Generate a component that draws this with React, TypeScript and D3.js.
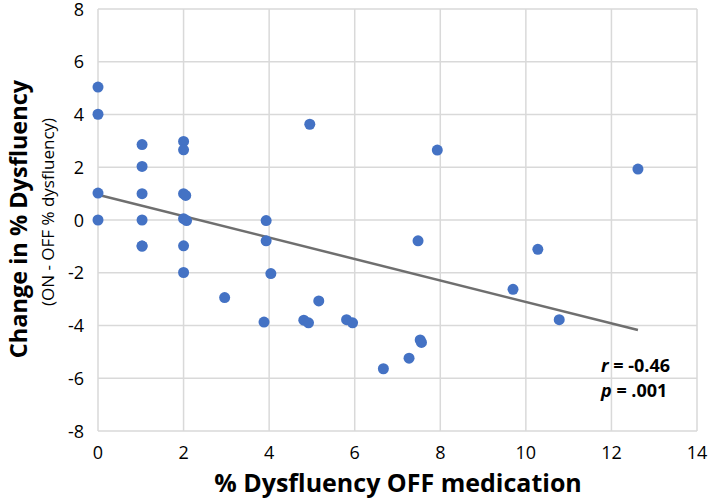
import * as d3 from "d3";

// % dysfluency OFF medication (x) and change ON - OFF (y)
const offDysfluency = [
  0, 0, 0, 0,
  1.03, 1.03, 1.03, 1.03, 1.03, 1.03,
  2.0, 2.0, 2.0, 2.05, 2.0, 2.07, 2.0, 2.0,
  2.96,
  3.93, 3.93, 4.04, 3.88,
  4.95, 4.81, 4.92, 5.16, 5.81, 5.95,
  6.67, 7.27, 7.53, 7.56,
  7.48, 7.93,
  10.28, 9.7, 10.78, 12.62,
];
const changeDysfluency = [
  5.04, 4.01, 1.02, 0,
  2.86, 2.03, 1.0, 0, -0.99, -0.99,
  2.98, 2.66, 1.0, 0.93, 0.05, -0.02, -0.98, -1.99,
  -2.94,
  -0.02, -0.79, -2.03, -3.87,
  3.63, -3.8, -3.9, -3.07, -3.78, -3.9,
  -5.64, -5.24, -4.55, -4.64,
  -0.79, 2.65,
  -1.11, -2.63, -3.78, 1.93,
];

const xTicks = [0, 2, 4, 6, 8, 10, 12, 14];
const yTicks = [-8, -6, -4, -2, 0, 2, 4, 6, 8];

// linear trendline
const trendX = [0, 12.62];
const trendY = [0.96, -4.17];

const width = 709;
const height = 501;
const left = 98;
const right = 697;
const top = 9;
const bottom = 431;
const font = "'Open Sans', 'DejaVu Sans', sans-serif";

export default function App() {
  const x = d3.scaleLinear().domain([0, 14]).range([left, right]);
  const y = d3.scaleLinear().domain([-8, 8]).range([bottom, top]);

  const points = offDysfluency.map((v, i) => [v, changeDysfluency[i]]);
  const trend = d3
    .line<number>()
    .x((d) => x(d))
    .y((d, i) => y(trendY[i]));

  return (
    <svg
      width={width}
      height={height}
      style={{ position: "fixed", left: 0, top: 0, background: "white", fontFamily: font }}
    >
      <g className="grid">
        {yTicks.map((t) => (
          <line key={"h" + t} x1={left} x2={right} y1={y(t)} y2={y(t)} stroke="#d9d9d9" strokeWidth={1.5} />
        ))}
        {xTicks.map((t) => (
          <line key={"v" + t} x1={x(t)} x2={x(t)} y1={top} y2={bottom} stroke="#d9d9d9" strokeWidth={1.5} />
        ))}
      </g>
      <g className="y-ticks" fontSize={18} fill="#000" textAnchor="end">
        {yTicks.map((t) => (
          <text key={t} x={left - 14} y={y(t) + 6.5}>
            {t}
          </text>
        ))}
      </g>
      <g className="x-ticks" fontSize={18} fill="#000" textAnchor="middle">
        {xTicks.map((t) => (
          <text key={t} x={x(t)} y={459}>
            {t}
          </text>
        ))}
      </g>
      <path d={trend(trendX) ?? ""} fill="none" stroke="#6f6f6f" strokeWidth={2.5} />
      <g className="points">
        {points.map((p, i) => (
          <circle key={i} cx={x(p[0])} cy={y(p[1])} r={5.5} fill="#4472c4" />
        ))}
      </g>
      <text x={601} y={372} fontSize={18} fontWeight="bold">
        <tspan fontStyle="italic">r</tspan> = -0.46
      </text>
      <text x={601} y={397} fontSize={18} fontWeight="bold">
        <tspan fontStyle="italic">p</tspan> = .001
      </text>
      <text x={398} y={492} fontSize={25} fontWeight="bold" textAnchor="middle">
        % Dysfluency OFF medication
      </text>
      <text
        transform="translate(27,219) rotate(-90)"
        fontSize={23.5}
        fontWeight="bold"
        textAnchor="middle"
      >
        Change in % Dysfluency
      </text>
      <text
        transform="translate(54,212) rotate(-90)"
        fontSize={17}
        textAnchor="middle"
      >
        (ON - OFF  % dysfluency)
      </text>
    </svg>
  );
}
